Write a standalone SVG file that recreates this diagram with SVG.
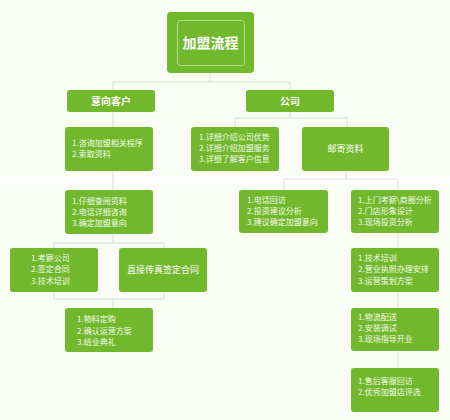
<svg xmlns="http://www.w3.org/2000/svg" width="450" height="420" viewBox="0 0 450 420">
<style>
.box{fill:#71b82d}
.t{font-family:"Noto Sans CJK SC","Noto Sans",sans-serif;font-size:8px;fill:#f4fbe9}
.h{font-family:"Noto Sans CJK SC","Noto Sans",sans-serif;font-size:10px;font-weight:bold;fill:#ffffff;text-anchor:middle}
.c{fill:none;stroke:#d9ddd4;stroke-width:1}
</style>
<rect width="450" height="420" fill="#fafcf6"/>
<rect x="0" y="177" width="450" height="8" fill="#ffffff"/>
<g id="connectors" class="c">
<path d="M210 73V82M113 82H290M113 82V90M290 82V90"/>
<path d="M113 112V127"/>
<path d="M290 112V118M235 118H347M235 118V127M347 118V127"/>
<path d="M113 171V190"/>
<path d="M346 171V179M284 179H398M284 179V190M398 179V190"/>
<path d="M398 233V248M398 292V308M398 351V368"/>
<path d="M113 234V243M54 243H164M54 243V248M164 243V248"/>
<path d="M54 292V299H164V292M113 299V308"/>
</g>
<g id="root">
<rect x="167" y="12" width="87" height="61" rx="4" class="box"/>
<rect x="177.5" y="20.5" width="67" height="45" rx="3" fill="none" stroke="#b5dc8f" stroke-width="1"/>
<text x="210.5" y="48" class="h" style="font-size:14px">加盟流程</text>
</g>
<g id="n-yixiang">
<rect x="67" y="90" width="88" height="22" rx="3" class="box"/>
<text x="111" y="104.5" class="h">意向客户</text>
</g>
<g id="n-gongsi">
<rect x="246" y="90" width="88" height="22" rx="3" class="box"/>
<text x="290" y="104.5" class="h">公司</text>
</g>
<g id="n-zixun">
<rect x="65" y="127" width="88" height="44" rx="3" class="box"/>
<text class="t"><tspan x="72" y="146">1.咨询加盟相关程序</tspan><tspan x="72" y="157">2.索取资料</tspan></text>
</g>
<g id="n-xiangxi">
<rect x="191" y="127" width="88" height="44" rx="3" class="box"/>
<text class="t"><tspan x="199" y="140">1.详细介绍公司优势</tspan><tspan x="199" y="151">2.详细介绍加盟服务</tspan><tspan x="199" y="162">3.详细了解客户信息</tspan></text>
</g>
<g id="n-youji">
<rect x="302" y="127" width="87" height="44" rx="3" class="box"/>
<text x="345.5" y="152" class="h" style="font-size:9px;font-weight:normal">邮寄资料</text>
</g>
<g id="n-zixi">
<rect x="65" y="190" width="88" height="44" rx="3" class="box"/>
<text class="t"><tspan x="72" y="204">1.仔细查阅资料</tspan><tspan x="72" y="215">2.电话详细咨询</tspan><tspan x="72" y="226">3.确定加盟意向</tspan></text>
</g>
<g id="n-dianhua">
<rect x="239" y="190" width="89" height="43" rx="3" class="box"/>
<text class="t"><tspan x="247" y="203">1.电话回访</tspan><tspan x="247" y="214">2.投资建议分析</tspan><tspan x="247" y="225">3.建议确定加盟意向</tspan></text>
</g>
<g id="n-shangmen">
<rect x="351" y="190" width="88" height="43" rx="3" class="box"/>
<text class="t"><tspan x="358" y="203">1.上门考察\商圈分析</tspan><tspan x="358" y="214">2.门店形象设计</tspan><tspan x="358" y="225">3.现场投资分析</tspan></text>
</g>
<g id="n-kaocha">
<rect x="10" y="248" width="88" height="44" rx="3" class="box"/>
<text class="t"><tspan x="31" y="261">1.考察公司</tspan><tspan x="31" y="272">2.签定合同</tspan><tspan x="31" y="284">3.技术培训</tspan></text>
</g>
<g id="n-chuanzhen">
<rect x="119" y="248" width="88" height="44" rx="3" class="box"/>
<text x="163" y="273" class="h" style="font-size:9px;font-weight:normal">直接传真签定合同</text>
</g>
<g id="n-wuliao">
<rect x="65" y="308" width="88" height="44" rx="3" class="box"/>
<text class="t"><tspan x="77" y="322">1.物料定购</tspan><tspan x="77" y="334">2.确认运营方案</tspan><tspan x="77" y="345">3.结业典礼</tspan></text>
</g>
<g id="n-jishu">
<rect x="351" y="248" width="88" height="44" rx="3" class="box"/>
<text class="t"><tspan x="358" y="261">1.技术培训</tspan><tspan x="358" y="272">2.营业执照办理安排</tspan><tspan x="358" y="284">3.运营策划方案</tspan></text>
</g>
<g id="n-wuliu">
<rect x="351" y="308" width="88" height="43" rx="3" class="box"/>
<text class="t"><tspan x="358" y="320">1.物流配送</tspan><tspan x="358" y="331">2.安装调试</tspan><tspan x="358" y="342">3.现场指导开业</tspan></text>
</g>
<g id="n-shouhou">
<rect x="351" y="368" width="88" height="44" rx="3" class="box"/>
<text class="t"><tspan x="358" y="384">1.售后客服回访</tspan><tspan x="358" y="395">2.优秀加盟店评选</tspan></text>
</g>
</svg>
